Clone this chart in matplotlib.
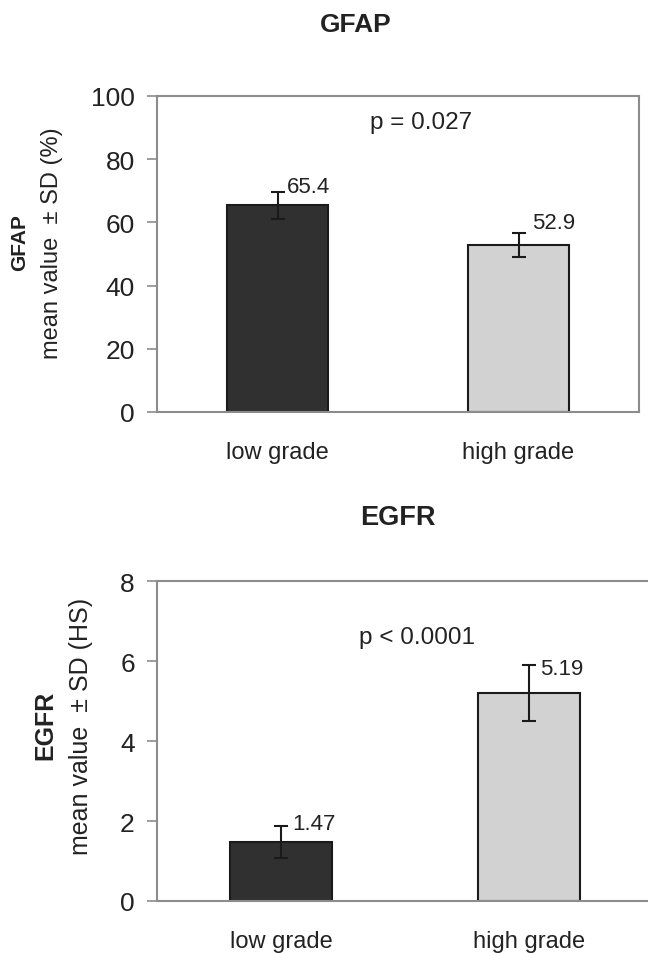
import matplotlib
matplotlib.use("Agg")
import matplotlib.pyplot as plt

plt.rcParams['font.family'] = ['Liberation Sans', 'DejaVu Sans']

groups = ['low grade', 'high grade']
gfap_mean = [65.4, 52.9]
gfap_sd = [4.3, 3.8]
egfr_mean = [1.47, 5.19]
egfr_sd = [0.40, 0.70]
gfap_ticks = [0, 20, 40, 60, 80, 100]
egfr_ticks = [0, 2, 4, 6, 8]

bar_colors = ['#303030', '#d2d2d2']
edge = '#1a1a1a'
spine_col = '#8c8c8c'

W, H = 648, 954
fig = plt.figure(figsize=(W / 100, H / 100), dpi=100)


def px(l, t, r, b):
    return [l / W, 1 - b / H, (r - l) / W, (b - t) / H]


def panel(ax, means, sds, ticks, ymax, lab_off, ptext, pxy):
    x = range(len(means))
    ax.bar(x, means, width=0.415, color=bar_colors, edgecolor=edge, linewidth=1.5, zorder=2)
    ax.errorbar(x, means, yerr=sds, fmt='none', ecolor=edge, elinewidth=1.5,
                capsize=4.7, capthick=1.5, zorder=3)
    for i, (m, s) in enumerate(zip(means, sds)):
        ax.annotate(str(m), (i, m + s), xytext=lab_off[i], textcoords='offset points',
                    ha='left', va='baseline', fontsize=16, color='#222222')
    ax.text(pxy[0], pxy[1], ptext, ha='center', va='center', fontsize=17.5, color='#222222')
    ax.set_xlim(-0.5, 1.5)
    ax.set_ylim(0, ymax)
    ax.set_yticks(ticks)
    ax.set_xticks(list(x))
    ax.set_xticklabels(groups, fontsize=17, color='#222222')
    ax.tick_params(axis='x', length=0, pad=21)
    ax.tick_params(axis='y', length=7, width=1.2, color=spine_col, pad=9,
                   labelsize=19, labelcolor='#222222')
    for sp in ax.spines.values():
        sp.set_color(spine_col)
        sp.set_linewidth(1.5)


# top panel: GFAP
ax1 = fig.add_axes(px(157, 97, 639, 413))
panel(ax1, gfap_mean, gfap_sd, gfap_ticks, 100, [(7, 0), (10, 3.6)], 'p = 0.027', (0.595, 91.8))

# bottom panel: EGFR (right edge runs past the figure)
ax2 = fig.add_axes(px(157, 582, 653, 902))
panel(ax2, egfr_mean, egfr_sd, egfr_ticks, 8, [(8, -2), (8, -6)], 'p < 0.0001', (0.548, 6.6))

fig.text(356 / W, 1 - 25 / H, 'GFAP', ha='center', va='center', fontsize=19, fontweight='bold', color='#222222')
fig.text(398 / W, 1 - 518 / H, 'EGFR', ha='center', va='center', fontsize=19.5, fontweight='bold', color='#222222')

fig.text(20 / W, 1 - 243 / H, 'GFAP', rotation=90, ha='center', va='center', fontsize=15, fontweight='bold', color='#222222')
fig.text(52 / W, 1 - 243 / H, 'mean value  ± SD (%)', rotation=90, ha='center', va='center', fontsize=17, color='#222222')
fig.text(45 / W, 1 - 725 / H, 'EGFR', rotation=90, ha='center', va='center', fontsize=18, fontweight='bold', color='#222222')
fig.text(81 / W, 1 - 726 / H, 'mean value  ± SD (HS)', rotation=90, ha='center', va='center', fontsize=18, color='#222222')

fig.savefig('out.png', dpi=100)
